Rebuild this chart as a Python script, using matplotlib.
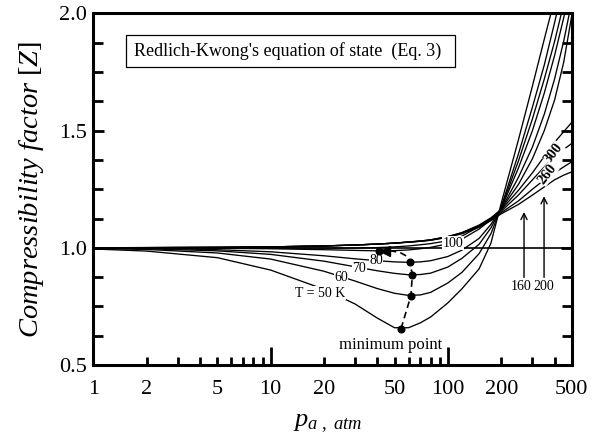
import matplotlib
matplotlib.use("Agg")
import matplotlib.pyplot as plt
from matplotlib.ticker import NullFormatter, FixedLocator
from matplotlib.patches import Rectangle

plt.rcParams['font.family'] = ['Liberation Serif', 'DejaVu Serif']
plt.rcParams['mathtext.fontset'] = 'custom'
plt.rcParams['mathtext.rm'] = 'Liberation Serif'
plt.rcParams['mathtext.it'] = 'Liberation Serif:italic'

# pressure grid (atm) at which values were read
p = [1, 2, 5, 10, 20, 30, 40, 50, 60, 70, 80, 100, 120, 150, 175, 200, 250, 300, 350, 400, 450, 500]

z_T50 = [0.995, 0.986, 0.958, 0.905, 0.823, 0.760, 0.700, 0.659, 0.659, 0.680, 0.705, 0.765, 0.825, 0.910, 1.020, 1.190, 1.46, 1.69, 1.89, 2.06, 2.25, 2.45]
z_T60 = [0.997, 0.993, 0.978, 0.952, 0.900, 0.858, 0.826, 0.806, 0.797, 0.799, 0.810, 0.850, 0.895, 0.975, 1.060, 1.175, 1.40, 1.60, 1.78, 1.96, 2.13, 2.30]
z_T70 = [0.998, 0.996, 0.987, 0.972, 0.943, 0.919, 0.902, 0.891, 0.885, 0.886, 0.892, 0.918, 0.955, 1.015, 1.085, 1.170, 1.37, 1.55, 1.72, 1.88, 2.04, 2.20]
z_T80 = [0.999, 0.998, 0.992, 0.983, 0.966, 0.953, 0.945, 0.940, 0.938, 0.940, 0.945, 0.963, 0.990, 1.040, 1.100, 1.168, 1.34, 1.50, 1.66, 1.82, 1.98, 2.14]
z_T100 = [1.000, 0.9995, 0.998, 0.996, 0.992, 0.989, 0.987, 0.988, 0.991, 0.996, 1.002, 1.017, 1.037, 1.080, 1.120, 1.165, 1.30, 1.43, 1.57, 1.72, 1.88, 2.05]
z_T120 = [1.000, 1.000, 1.000, 0.9995, 0.999, 0.999, 1.001, 1.004, 1.008, 1.013, 1.018, 1.030, 1.050, 1.090, 1.125, 1.165, 1.27, 1.38, 1.50, 1.63, 1.79, 1.99]
z_T160 = [1.0004, 1.0008, 1.002, 1.004, 1.008, 1.012, 1.016, 1.020, 1.025, 1.029, 1.034, 1.048, 1.065, 1.097, 1.128, 1.162, 1.245, 1.32, 1.39, 1.45, 1.495, 1.535]
z_T200 = [1.0004, 1.0008, 1.002, 1.004, 1.008, 1.012, 1.016, 1.020, 1.025, 1.029, 1.034, 1.048, 1.064, 1.094, 1.124, 1.156, 1.225, 1.29, 1.345, 1.39, 1.42, 1.445]
z_T260 = [1.0004, 1.0008, 1.002, 1.004, 1.008, 1.012, 1.016, 1.020, 1.024, 1.028, 1.033, 1.046, 1.062, 1.091, 1.120, 1.150, 1.200, 1.25, 1.29, 1.32, 1.345, 1.367]
z_T300 = [1.0004, 1.0008, 1.002, 1.004, 1.008, 1.012, 1.016, 1.020, 1.024, 1.028, 1.032, 1.045, 1.060, 1.088, 1.116, 1.145, 1.185, 1.225, 1.26, 1.29, 1.31, 1.324]

curves = [z_T50, z_T60, z_T70, z_T80, z_T100, z_T120, z_T160, z_T200, z_T260, z_T300]

# locus of minimum points (T = 50, 60, 70, 80 K) and its continuation
min_p = [54.4, 61.9, 63.0, 61.1]
min_z = [0.655, 0.796, 0.884, 0.938]
locus_tail_p = [59.0, 54.0, 48.0, 44.0]
locus_tail_z = [0.963, 0.979, 0.987, 0.988]
end_p, end_z = 41.1, 0.988

xtick_vals = [1, 2, 5, 10, 20, 50, 100, 200, 500]
xtick_labels = ['1', '2', '5', '10', '20', '50', '100', '200', '500']
xminor_vals = [3, 4, 6, 7, 8, 9, 30, 40, 60, 70, 80, 90, 300, 400]
ytick_vals = [0.5, 1.0, 1.5, 2.0]
ytick_labels = ['0.5', '1.0', '1.5', '2.0']
yminor_vals = [0.625, 0.75, 0.875, 1.125, 1.25, 1.375, 1.625, 1.75, 1.875]

fig = plt.figure(figsize=(6.05, 4.34), dpi=100)
ax = fig.add_axes([0.1545, 0.159, 0.7905, 0.810])
ax.set_xscale('log')
ax.set_xlim(1, 500)
ax.set_ylim(0.5, 2.0)

for z in curves:
    ax.plot(p, z, color='black', lw=0.95, zorder=2)

ax.plot([1, 500], [1.0, 1.0], color='black', lw=1.2, zorder=2)

# dashed locus
ax.plot(min_p + locus_tail_p, min_z + locus_tail_z, color='black', lw=1.2,
        ls=(0, (4, 2.5)), zorder=4)
ax.plot(min_p, min_z, 'o', color='black', ms=4.8, zorder=5)
ax.plot([end_p], [end_z], 'o', color='black', ms=4.8, zorder=5)
ax.plot([locus_tail_p[-1]], [locus_tail_z[-1]], marker='<', color='black', ms=7, zorder=5)

lab_kw = dict(fontsize=10, ha='center', va='center', zorder=3,
              bbox=dict(facecolor='white', edgecolor='none', pad=0.3))
ax.text(19.1, 0.807, 'T = 50 K', **lab_kw)
ax.text(25.0, 0.874, '60', **lab_kw)
ax.text(31.7, 0.912, '70', **lab_kw)
ax.text(39.3, 0.945, '80', **lab_kw)
ax.text(107, 1.019, '100', **lab_kw)

rot_kw = dict(fontsize=10.5, fontweight='bold', ha='center', va='center', rotation=52, zorder=3,
              bbox=dict(facecolor='white', edgecolor='none', pad=0.2))
ax.text(396, 1.404, '300', **rot_kw)
ax.text(364, 1.315, '260', **rot_kw)

ax.annotate('', xy=(269, 1.165), xytext=(269, 0.862),
            arrowprops=dict(arrowstyle='->', lw=1.0, color='black', mutation_scale=11))
ax.annotate('', xy=(349, 1.232), xytext=(349, 0.862),
            arrowprops=dict(arrowstyle='->', lw=1.0, color='black', mutation_scale=11))
ax.text(258, 0.834, '160', fontsize=10, ha='center', va='center')
ax.text(348, 0.837, '200', fontsize=10, ha='center', va='center')

ax.text(47.8, 0.584, 'minimum point', fontsize=12, ha='center', va='center', zorder=3)

# title box
ax.add_patch(Rectangle((1.52, 1.772), 110 - 1.52, 0.135, fill=False, edgecolor='black',
                       lw=0.9, zorder=3))
ax.text(1.70, 1.838, "Redlich-Kwong's equation of state  (Eq. 3)", fontsize=13,
        ha='left', va='center', zorder=3)

# spines
for s in ax.spines.values():
    s.set_linewidth(2.2)

# ticks
ax.set_xticks(xtick_vals)
ax.set_xticklabels(xtick_labels)
ax.xaxis.set_minor_locator(FixedLocator(xminor_vals))
ax.xaxis.set_minor_formatter(NullFormatter())
ax.set_yticks(ytick_vals)
ax.set_yticklabels(ytick_labels)
ax.yaxis.set_minor_locator(FixedLocator(yminor_vals))

ax.tick_params(axis='x', which='both', direction='in', top=False, bottom=True,
               width=2, labelsize=16, pad=11)
ax.tick_params(axis='x', which='minor', length=6)
ax.tick_params(axis='y', which='both', direction='in', left=True, right=True,
               width=2, labelsize=16, pad=5)
ax.tick_params(axis='y', which='major', length=8)
ax.tick_params(axis='y', which='minor', length=7)

long_ticks = {10: 13, 100: 13, 1: 0, 500: 0}
for val, tk in zip(xtick_vals, ax.xaxis.get_major_ticks()):
    tk.tick1line.set_markersize(long_ticks.get(val, 6))

ax.set_ylabel(r'$Compressibility\ factor\ \mathrm{[}Z\mathrm{]}$', fontsize=20.5)
ax.yaxis.set_label_coords(-0.1, 0.5)
ax.set_xlabel(r'$p_{a\ ,\ atm}$', fontsize=19)
ax.xaxis.set_label_coords(0.49, -0.135)

fig.savefig('out.png', dpi=100)
